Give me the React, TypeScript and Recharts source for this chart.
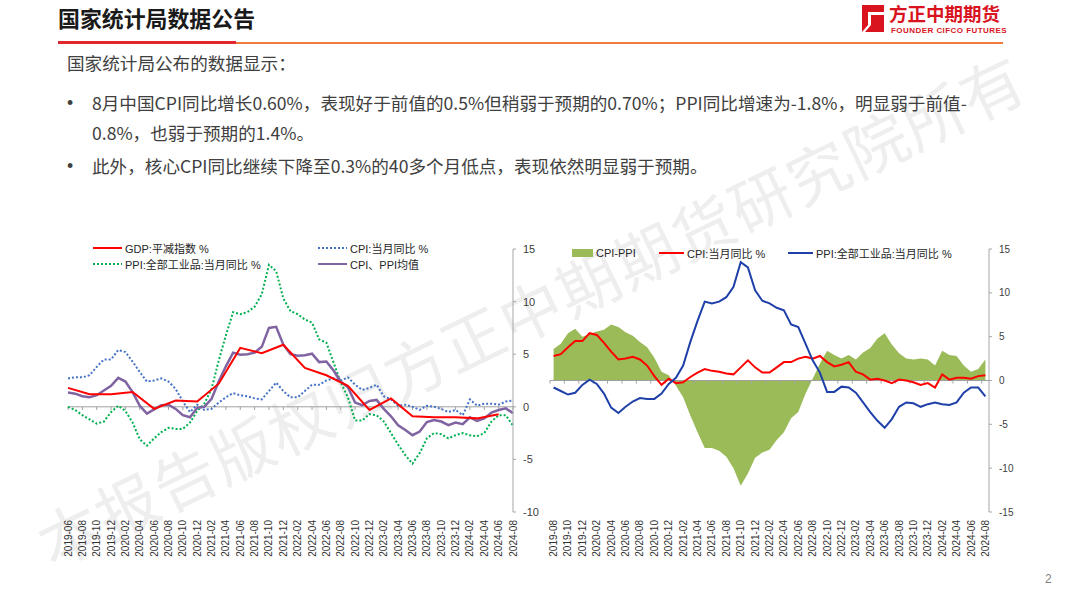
import React from 'react';
import { ComposedChart, Line, Area, XAxis, YAxis, ReferenceLine } from 'recharts';

const months: string[] = [
  '2019-06', '2019-07', '2019-08', '2019-09', '2019-10', '2019-11', '2019-12',
  '2020-01', '2020-02', '2020-03', '2020-04', '2020-05', '2020-06', '2020-07', '2020-08', '2020-09', '2020-10', '2020-11', '2020-12',
  '2021-01', '2021-02', '2021-03', '2021-04', '2021-05', '2021-06', '2021-07', '2021-08', '2021-09', '2021-10', '2021-11', '2021-12',
  '2022-01', '2022-02', '2022-03', '2022-04', '2022-05', '2022-06', '2022-07', '2022-08', '2022-09', '2022-10', '2022-11', '2022-12',
  '2023-01', '2023-02', '2023-03', '2023-04', '2023-05', '2023-06', '2023-07', '2023-08', '2023-09', '2023-10', '2023-11', '2023-12',
  '2024-01', '2024-02', '2024-03', '2024-04', '2024-05', '2024-06', '2024-07', '2024-08',
];

const cpiYoY: number[] = [
  2.7, 2.8, 2.8, 3.0, 3.8, 4.5, 4.5,
  5.4, 5.2, 4.3, 3.3, 2.4, 2.5, 2.7, 2.4, 1.7, 0.5, -0.5, 0.2,
  -0.3, -0.2, 0.4, 0.9, 1.3, 1.1, 1.0, 0.8, 0.7, 1.5, 2.3, 1.5,
  0.9, 0.9, 1.5, 2.1, 2.1, 2.5, 2.7, 2.5, 2.8, 2.1, 1.6, 1.8,
  2.1, 1.0, 0.7, 0.1, 0.2, 0.0, -0.3, 0.1, 0.0, -0.2, -0.5, -0.3,
  -0.8, 0.7, 0.1, 0.3, 0.3, 0.2, 0.5, 0.6,
];

const ppiYoY: number[] = [
  0.0, -0.3, -0.8, -1.2, -1.6, -1.4, -0.5,
  0.1, -0.4, -1.5, -3.1, -3.7, -3.0, -2.4, -2.0, -2.1, -2.1, -1.5, -0.4,
  0.3, 1.7, 4.4, 6.8, 9.0, 8.8, 9.0, 9.5, 10.7, 13.5, 12.9, 10.3,
  9.1, 8.8, 8.3, 8.0, 6.4, 6.1, 4.2, 2.3, 0.9, -1.3, -1.3, -0.7,
  -0.8, -1.4, -2.5, -3.6, -4.6, -5.4, -4.4, -3.0, -2.5, -2.6, -3.0, -2.7,
  -2.5, -2.7, -2.8, -2.5, -1.4, -0.8, -0.8, -1.8,
];

const cpiPpiMean: number[] = [
  1.35, 1.25, 1.0, 0.9, 1.1, 1.55, 2.0,
  2.75, 2.4, 1.4, 0.1, -0.65, -0.25, 0.15, 0.2, -0.2, -0.8, -1.0, -0.1,
  0.0, 0.75, 2.4, 3.85, 5.15, 4.95, 5.0, 5.15, 5.7, 7.5, 7.6, 5.9,
  5.0, 4.85, 4.9, 5.05, 4.25, 4.3, 3.45, 2.4, 1.85, 0.4, 0.15, 0.55,
  0.65, -0.2, -0.9, -1.75, -2.2, -2.7, -2.35, -1.45, -1.25, -1.4, -1.75, -1.5,
  -1.65, -1.0, -1.35, -1.1, -0.55, -0.3, -0.15, -0.6,
];

const gdpDeflator: (number | null)[] = [
  1.8, null, null, 1.2, null, null, 1.2,
  null, null, 1.4, null, null, -0.2, null, null, 0.6, null, null, 0.5,
  null, null, 2.2, null, null, 5.6, null, null, 5.1, null, null, 5.9,
  null, null, 3.7, null, null, 3.0, null, null, 2.0, null, null, -0.3,
  null, null, 0.8, null, null, -0.9, null, null, -1.0, null, null, -1.0,
  null, null, -1.1, null, null, -0.7, null, null,
];

const rightMonths: string[] = months.slice(2);
const rightCpi: number[] = cpiYoY.slice(2);
const rightPpi: number[] = ppiYoY.slice(2);
const cpiMinusPpi: number[] = [
  3.6, 4.2, 5.4, 5.9, 5.0,
  5.3, 5.6, 5.8, 6.4, 6.1, 5.5, 5.1, 4.4, 3.8, 2.6, 1.0, 0.6,
  -0.6, -1.9, -4.0, -5.9, -7.7, -7.7, -8.0, -8.7, -10.0, -12.0, -10.6, -8.8,
  -8.2, -7.9, -6.8, -5.9, -4.3, -3.6, -1.5, 0.2, 1.9, 3.4, 2.9, 2.5,
  2.9, 2.4, 3.2, 3.7, 4.8, 5.4, 4.1, 3.1, 2.5, 2.4, 2.5, 2.4,
  1.7, 3.4, 2.9, 2.8, 1.7, 1.0, 1.3, 2.4,
];

const leftTicks = [-10, -5, 0, 5, 10, 15];
const rightTicks = [-15, -10, -5, 0, 5, 10, 15];

const leftData = months.map((m, i) => ({
  month: m,
  gdp: gdpDeflator[i],
  cpi: cpiYoY[i],
  ppi: ppiYoY[i],
  mean: cpiPpiMean[i],
}));

const rightData = rightMonths.map((m, i) => ({
  month: m,
  spread: cpiMinusPpi[i],
  cpi: rightCpi[i],
  ppi: rightPpi[i],
}));

const leftTickMonths = months.filter((_, i) => i % 2 === 0);
const rightTickMonths = rightMonths.filter((_, i) => i % 2 === 0);

const CJK = '"Noto Sans CJK SC", "Noto Sans", sans-serif';
const LAT = '"Liberation Sans", Arial, "Noto Sans CJK SC", sans-serif';

const MonthTick = (props: any) => {
  const { x, y, payload } = props;
  return (
    <text
      x={x}
      y={y}
      transform={`rotate(-90, ${x}, ${y})`}
      textAnchor="end"
      dy="0.35em"
      fontSize={10}
      fill="#333"
      fontFamily={LAT}
    >
      {payload.value}
    </text>
  );
};

type LegendProps = {
  left: number;
  top: number;
  color: string;
  label: string;
  kind: 'line' | 'dot' | 'box';
  width?: number;
};

const LegendItem = ({ left, top, color, label, kind, width = 29 }: LegendProps) => (
  <div
    style={{
      position: 'absolute',
      left,
      top: top - 8,
      height: 16,
      display: 'flex',
      alignItems: 'center',
      whiteSpace: 'nowrap',
      fontFamily: LAT,
      fontSize: 11,
      color: '#262626',
    }}
  >
    <svg width={width} height={16} style={{ display: 'block', marginRight: 3 }}>
      {kind === 'box' ? (
        <rect x={0} y={4} width={width} height={8} fill={color} />
      ) : (
        <line
          x1={0}
          y1={8}
          x2={width}
          y2={8}
          stroke={color}
          strokeWidth={2}
          strokeDasharray={kind === 'dot' ? '2 2' : undefined}
        />
      )}
    </svg>
    <span>{label}</span>
  </div>
);

const Logo = () => (
  <div style={{ position: 'absolute', left: 856, top: 3 }}>
    <svg width={30} height={31} style={{ position: 'absolute', left: 0, top: 0 }}>
      <path d="M6 2 L28 2 L28 9 L12 9 L12 22 L6 29 Z" fill="#d9141f" />
      <path d="M15 12 L28 12 L28 29 L9 29 L15 22 Z" fill="#d9141f" />
    </svg>
    <div
      style={{
        position: 'absolute',
        left: 33,
        top: 0,
        fontFamily: CJK,
        fontWeight: 700,
        fontSize: 18.5,
        lineHeight: '20px',
        color: '#d9141f',
        whiteSpace: 'nowrap',
      }}
    >
      方正中期期货
    </div>
    <div
      style={{
        position: 'absolute',
        left: 35,
        top: 23,
        fontFamily: LAT,
        fontWeight: 700,
        fontSize: 8,
        lineHeight: '10px',
        letterSpacing: 0.45,
        color: '#d9141f',
        whiteSpace: 'nowrap',
      }}
    >
      FOUNDER CIFCO FUTURES
    </div>
  </div>
);

const textLine = (top: number, left: number, content: string, font: string = CJK) => (
  <div
    style={{
      position: 'absolute',
      left,
      top,
      fontFamily: font,
      fontSize: 17.6,
      lineHeight: '20px',
      color: '#404040',
      whiteSpace: 'nowrap',
    }}
  >
    {content}
  </div>
);

export default function App() {
  return (
    <div
      style={{
        position: 'absolute',
        left: 0,
        top: 0,
        width: 1080,
        height: 608,
        background: '#ffffff',
        overflow: 'hidden',
      }}
    >
      {/* watermark */}
      <div
        style={{
          position: 'absolute',
          left: 530,
          top: 308,
          transform: 'translate(-50%, -50%) rotate(-25.8deg)',
          fontFamily: CJK,
          fontSize: 62,
          letterSpacing: 2,
          color: '#eeeeee',
          whiteSpace: 'nowrap',
          lineHeight: '70px',
        }}
      >
        本报告版权归方正中期期货研究院所有
      </div>

      {/* header */}
      <div
        style={{
          position: 'absolute',
          left: 58,
          top: 6,
          fontFamily: CJK,
          fontWeight: 700,
          fontSize: 21.9,
          lineHeight: '24px',
          color: '#1a1a1a',
          whiteSpace: 'nowrap',
        }}
      >
        国家统计局数据公告
      </div>
      <div style={{ position: 'absolute', left: 58, top: 41, width: 178, height: 3, background: '#e0282e' }} />
      <div style={{ position: 'absolute', left: 236, top: 41.5, width: 767, height: 2, background: '#f07b3f' }} />
      <Logo />

      {/* body text */}
      {textLine(53, 67, '国家统计局公布的数据显示：')}
      {textLine(93, 67, '•', LAT)}
      {textLine(93, 92, '8月中国CPI同比增长0.60%，表现好于前值的0.5%但稍弱于预期的0.70%；PPI同比增速为-1.8%，明显弱于前值-')}
      {textLine(123, 92, '0.8%，也弱于预期的1.4%。')}
      {textLine(156, 67, '•', LAT)}
      {textLine(156, 92, '此外，核心CPI同比继续下降至0.3%的40多个月低点，表现依然明显弱于预期。')}

      {/* left chart */}
      <div style={{ position: 'absolute', left: 40, top: 235 }}>
        <ComposedChart
          width={520}
          height={330}
          data={leftData}
          margin={{ top: 14, right: 12, bottom: 3, left: 28 }}
        >
          <XAxis
            dataKey="month"
            scale="point"
            interval={1}
            axisLine={false}
            tickLine={false}
            height={50}
            tick={<MonthTick />}
          />
          <YAxis
            orientation="right"
            domain={[-10, 15]}
            ticks={leftTicks}
            allowDataOverflow
            width={35}
            axisLine={{ stroke: '#a6a6a6' }}
            tickLine={{ stroke: '#a6a6a6' }}
            tickSize={3}
            tickMargin={7}
            tick={{ fontSize: 11, fill: '#404040', fontFamily: LAT }}
          />
          <ReferenceLine y={0} stroke="#a0a0a0" strokeWidth={1} />
          {leftTickMonths.map((m) => (
            <ReferenceLine
              key={'lt' + m}
              segment={[{ x: m, y: 0 }, { x: m, y: -0.3 }]}
              stroke="#a0a0a0"
              strokeWidth={1}
            />
          ))}
          <Line dataKey="ppi" stroke="#00b050" strokeWidth={2} strokeDasharray="2 2" dot={false} isAnimationActive={false} />
          <Line dataKey="cpi" stroke="#4472c4" strokeWidth={2} strokeDasharray="2 2" dot={false} isAnimationActive={false} />
          <Line dataKey="mean" stroke="#8064a2" strokeWidth={2.5} dot={false} isAnimationActive={false} />
          <Line dataKey="gdp" stroke="#ff0000" strokeWidth={2} dot={false} connectNulls isAnimationActive={false} />
        </ComposedChart>
      </div>
      <LegendItem left={93} top={248} color="#ff0000" kind="line" label="GDP:平减指数 %" />
      <LegendItem left={318} top={248} color="#4472c4" kind="dot" label="CPI:当月同比 %" />
      <LegendItem left={93} top={264} color="#00b050" kind="dot" label="PPI:全部工业品:当月同比 %" />
      <LegendItem left={318} top={264} color="#8064a2" kind="line" label="CPI、PPI均值" />

      {/* right chart */}
      <div style={{ position: 'absolute', left: 540, top: 235 }}>
        <ComposedChart
          width={490}
          height={330}
          data={rightData}
          margin={{ top: 14, right: 6, bottom: 3, left: 10 }}
        >
          <XAxis
            dataKey="month"
            scale="band"
            interval={1}
            axisLine={false}
            tickLine={false}
            height={50}
            tick={<MonthTick />}
          />
          <YAxis
            orientation="right"
            domain={[-15, 15]}
            ticks={rightTicks}
            allowDataOverflow
            width={35}
            axisLine={{ stroke: '#a6a6a6' }}
            tickLine={{ stroke: '#a6a6a6' }}
            tickSize={3}
            tickMargin={7}
            tick={{ fontSize: 10, fill: '#404040', fontFamily: LAT }}
          />
          <Area
            dataKey="spread"
            fill="#9bbb59"
            fillOpacity={1}
            stroke="none"
            baseValue={0}
            isAnimationActive={false}
          />
          <ReferenceLine y={0} stroke="#a0a0a0" strokeWidth={1} />
          {rightTickMonths.map((m) => (
            <ReferenceLine
              key={'rt' + m}
              segment={[{ x: m, y: 0 }, { x: m, y: -0.35 }]}
              position="start"
              stroke="#a0a0a0"
              strokeWidth={1}
            />
          ))}
          <Line dataKey="cpi" stroke="#ff0000" strokeWidth={2} dot={false} isAnimationActive={false} />
          <Line dataKey="ppi" stroke="#1f40a8" strokeWidth={2} dot={false} isAnimationActive={false} />
        </ComposedChart>
      </div>
      <LegendItem left={572} top={253} color="#9bbb59" kind="box" width={21} label="CPI-PPI" />
      <LegendItem left={659} top={253} color="#ff0000" kind="line" width={25} label="CPI:当月同比 %" />
      <LegendItem left={788} top={253} color="#1f40a8" kind="line" width={25} label="PPI:全部工业品:当月同比 %" />

      {/* page number */}
      <div
        style={{
          position: 'absolute',
          left: 1045,
          top: 572,
          fontFamily: LAT,
          fontSize: 12,
          color: '#7f7f7f',
        }}
      >
        2
      </div>
    </div>
  );
}
